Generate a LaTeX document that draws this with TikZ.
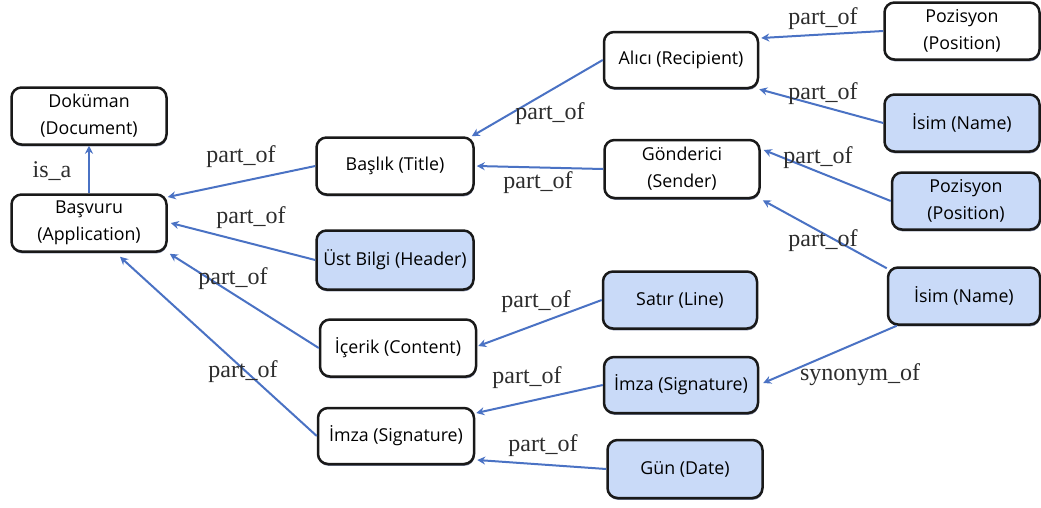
\documentclass[tikz,border=0pt]{standalone}
\usepackage{fontspec}
\setmainfont{Liberation Serif}
\newfontfamily\nodefont{Open Sans}
\usetikzlibrary{arrows.meta,shadows}
\definecolor{nodeblue}{RGB}{201,218,248}
\definecolor{edgeblue}{RGB}{74,114,196}
\definecolor{labelgray}{RGB}{45,45,45}
\definecolor{shadenavy}{RGB}{30,45,90}
\tikzset{
  box/.style={draw=black!90, line width=2.5pt, rounded corners=10pt, fill=white,
    minimum width=155pt, minimum height=57pt, inner sep=0pt,
    align=center, font=\nodefont\fontsize{17.8}{27}\selectfont,
    drop shadow={shadow xshift=0.5pt, shadow yshift=-1.8pt, fill=shadenavy, opacity=0.6}},
  bluebox/.style={box, fill=nodeblue},
  rel/.style={draw=edgeblue, line width=2pt, -{Stealth[length=8pt,width=8pt]}},
  lbl/.style={text=labelgray, font=\fontsize{24}{24}\selectfont, inner sep=0pt}
}
\begin{document}
\begin{tikzpicture}[x=1pt,y=-1pt]
\useasboundingbox[fill=white] (0,0) rectangle (1041,507);

% concept boxes
\node[box] (doc) at (89,116) {Doküman\\(Document)};
\node[box] (app) at (89,223) {Başvuru\\(Application)};
\node[box, minimum width=157pt] (title) at (395,166) {Başlık (Title)};
\node[bluebox, minimum width=157pt, minimum height=59pt] (header) at (395,260) {Üst Bilgi (Header)};
\node[box, minimum width=156pt] (content) at (398,348) {İçerik (Content)};
\node[box, minimum width=156pt, minimum height=56pt] (signL) at (396,436) {İmza (Signature)};
\node[box, minimum width=154pt, minimum height=56pt] (recip) at (681,60) {Alıcı (Recipient)};
\node[box, minimum height=58pt] (sender) at (682,169) {Gönderici\\(Sender)};
\node[box] (pos1) at (962,31) {Pozisyon\\(Position)};
\node[bluebox] (name1) at (962,123) {İsim (Name)};
\node[bluebox, minimum width=148pt] (pos2) at (966,201) {Pozisyon\\(Position)};
\node[bluebox, minimum width=154pt] (line) at (680,300) {Satır (Line)};
\node[bluebox, minimum width=152pt] (name2) at (964,296) {İsim (Name)};
\node[bluebox, minimum width=154pt, minimum height=56pt] (signR) at (681,385) {İmza (Signature)};
\node[bluebox, minimum height=58pt] (date) at (685,469) {Gün (Date)};

% relations
\draw[rel] (app.north) -- (doc.south);
\draw[rel] (title.west) -- ([yshift=26pt]app.east);
\draw[rel] (header.west) -- ([xshift=3pt]app.east);
\draw[rel] (content.west) -- ([xshift=2pt,yshift=-1pt]app.south east);
\draw[rel] (signL.west) -- ([xshift=31pt,yshift=-4pt]app.south);
\draw[rel] (recip.west) -- ([xshift=-3pt]title.north east);
\draw[rel] (sender.west) -- ([xshift=2pt]title.east);
\draw[rel] (pos1.west) -- ([xshift=2pt,yshift=22pt]recip.east);
\draw[rel] (name1.west) -- (recip.south east);
\draw[rel] (pos2.west) -- ([xshift=3pt,yshift=19pt]sender.east);
\draw[rel] ([yshift=-2pt]name2.north west) -- ([xshift=2pt,yshift=-1pt]sender.south east);
\draw[rel] (line.west) -- ([xshift=1pt,yshift=2pt]content.east);
\draw[rel] (signR.west) -- ([xshift=1pt,yshift=23pt]signL.east);
\draw[rel] (date.west) -- ([xshift=2pt,yshift=-24pt]signL.east);
\draw[rel] ([xshift=10pt]name2.south west) -- ([xshift=4pt,yshift=2pt]signR.east);

% relation labels
\node[lbl] (l0) at (52,171) {is\_a};
\node[lbl] (l1) at (241,157) {part\_of};
\node[lbl] (l2) at (251,218) {part\_of};
\node[lbl] (l3) at (233,279) {part\_of};
\node[lbl] (l4) at (243,372) {part\_of};
\node[lbl] (l5) at (550,114) {part\_of};
\node[lbl] (l6) at (538,183) {part\_of};
\node[lbl] (l7) at (823,19) {part\_of};
\node[lbl] (l8) at (823,94) {part\_of};
\node[lbl] (l9) at (818,158) {part\_of};
\node[lbl] (l10) at (823,241) {part\_of};
\node[lbl] (l11) at (536,302) {part\_of};
\node[lbl] (l12) at (527,378) {part\_of};
\node[lbl] (l13) at (543,446) {part\_of};
\node[lbl] (l14) at (860,375) {synonym\_of};
\end{tikzpicture}
\end{document}
